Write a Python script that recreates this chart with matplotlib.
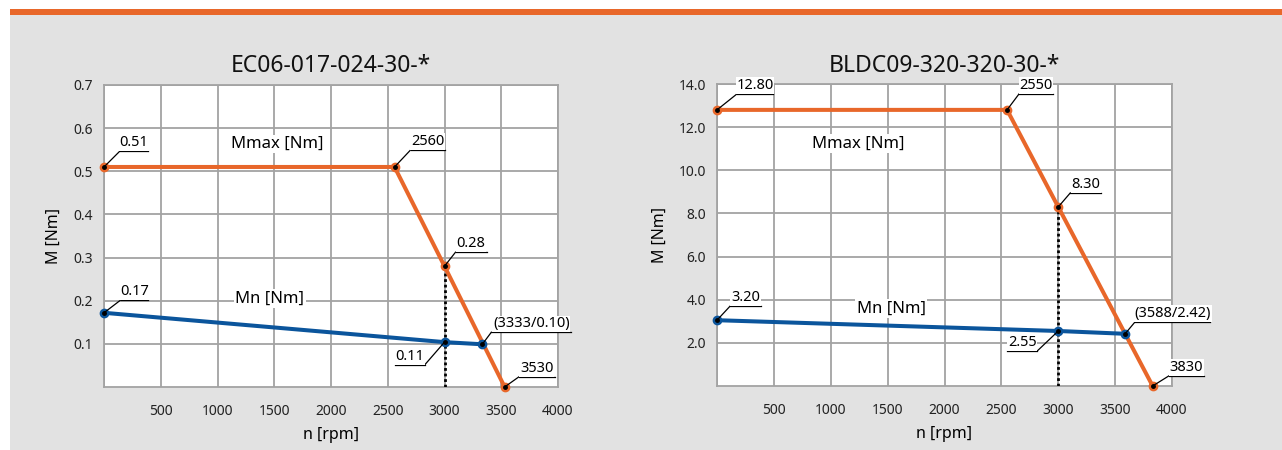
import matplotlib
matplotlib.use("Agg")
import matplotlib.pyplot as plt
from matplotlib.lines import Line2D
from matplotlib.patches import Rectangle
from matplotlib.transforms import IdentityTransform

plt.rcParams["font.family"] = ["Noto Sans", "DejaVu Sans"]

ORANGE = "#e8672a"
BLUE = "#0b559c"
GRID = "#a3a3a3"
PANEL = "#e2e2e2"

# ---- data ----
titles = ["EC06-017-024-30-*", "BLDC09-320-320-30-*"]

left_mmax_n = [0, 2560, 3000, 3530]
left_mmax_m = [0.51, 0.51, 0.28, 0.0]
left_mn_n = [0, 3000, 3333]
left_mn_m = [0.172, 0.104, 0.099]
left_yticks = [0.1, 0.2, 0.3, 0.4, 0.5, 0.6, 0.7]
left_ylabels = ["0.1", "0.2", "0.3", "0.4", "0.5", "0.6", "0.7"]

right_mmax_n = [0, 2550, 3000, 3830]
right_mmax_m = [12.8, 12.8, 8.3, 0.0]
right_mn_n = [0, 3000, 3588]
right_mn_m = [3.05, 2.55, 2.42]
right_yticks = [2, 4, 6, 8, 10, 12, 14]
right_ylabels = ["2.0", "4.0", "6.0", "8.0", "10.0", "12.0", "14.0"]

xticks = [0, 500, 1000, 1500, 2000, 2500, 3000, 3500, 4000]
xlabels = ["", "500", "1000", "1500", "2000", "2500", "3000", "3500", "4000"]

# callouts: (series, index, text, dx, dy, width)  offsets in pixels
left_callouts = [
    ("mmax", 0, "0.51", 16, 16, 28),
    ("mn", 0, "0.17", 17, 13, 27),
    ("mmax", 1, "2560", 16, 17, 34),
    ("mmax", 2, "0.28", 11, 14, 31),
    ("mn", 2, "(3333/0.10)", 9, 12, 80),
    ("mmax", 3, "3530", 14, 10, 36),
    ("mn", 1, "0.11", -20, -23, -30),
]
right_callouts = [
    ("mmax", 0, "12.80", 20, 16, 36),
    ("mn", 0, "3.20", 13, 14, 31),
    ("mmax", 1, "2550", 12, 16, 34),
    ("mmax", 2, "8.30", 12, 14, 31),
    ("mn", 2, "(3588/2.42)", 10, 12, 75),
    ("mmax", 3, "3830", 16, 10, 35),
    ("mn", 1, "2.55", -21, -20, -30),
]

W, H = 1282, 450
fig = plt.figure(figsize=(W / 100, H / 100), dpi=100)
fig.patch.set_facecolor("white")
fig.patches.append(Rectangle((10 / W, 0), 1, (H - 15) / H, transform=fig.transFigure,
                             facecolor=PANEL, edgecolor="none", zorder=-10))
fig.patches.append(Rectangle((10 / W, (H - 15) / H), 1, 6 / H, transform=fig.transFigure,
                             facecolor=ORANGE, edgecolor="none", zorder=-10))

charts = [
    dict(rect=[104 / W, 63 / H, 454 / W, 302 / H], title=titles[0],
         mmax=(left_mmax_n, left_mmax_m), mn=(left_mn_n, left_mn_m),
         ylim=0.7, yticks=left_yticks, ylabels=left_ylabels,
         callouts=left_callouts, mmax_lbl=(1530, 0.563), mn_lbl=(1460, 0.205)),
    dict(rect=[717 / W, 64 / H, 455 / W, 302 / H], title=titles[1],
         mmax=(right_mmax_n, right_mmax_m), mn=(right_mn_n, right_mn_m),
         ylim=14, yticks=right_yticks, ylabels=right_ylabels,
         callouts=right_callouts, mmax_lbl=(1240, 11.25), mn_lbl=(1530, 3.6)),
]

for c in charts:
    ax = fig.add_axes(c["rect"])
    ax.set_facecolor("white")
    ax.set_xlim(0, 4000)
    ax.set_ylim(0, c["ylim"])
    ax.set_xticks(xticks)
    ax.set_xticklabels(xlabels, fontsize=10, color="#222222")
    ax.set_yticks(c["yticks"])
    ax.set_yticklabels(c["ylabels"], fontsize=10, color="#222222")
    ax.tick_params(length=0, pad=8)
    ax.tick_params(axis="x", pad=12)
    ax.grid(color=GRID, linewidth=1.3)
    ax.set_axisbelow(True)
    for s in ax.spines.values():
        s.set_color(GRID)
        s.set_linewidth(1.3)
    ax.set_title(c["title"], fontsize=16.5, pad=9, color="#111111")
    ax.set_xlabel("n [rpm]", fontsize=11.5, labelpad=6)
    ax.set_ylabel("M [Nm]", fontsize=11.5, labelpad=8)

    mx, my = c["mmax"]
    nx, ny = c["mn"]
    # dotted drop line at 3000 rpm
    ax.plot([mx[2], mx[2]], [0, my[2]], color="black", linestyle=(0, (1, 1)),
            linewidth=2, zorder=3)
    ax.plot(mx, my, color=ORANGE, linewidth=2.9, marker="o", markersize=6,
            zorder=4, clip_on=False)
    ax.plot(nx, ny, color=BLUE, linewidth=2.9, marker="o", markersize=6,
            zorder=4, clip_on=False)

    bbox = dict(facecolor="white", edgecolor="none", pad=1)
    ax.text(*c["mmax_lbl"], "Mmax [Nm]", fontsize=12, ha="center", va="center",
            bbox=bbox, zorder=5)
    ax.text(*c["mn_lbl"], "Mn [Nm]", fontsize=12, ha="center", va="center",
            bbox=bbox, zorder=5)

    for series, i, txt, dx, dy, w in c["callouts"]:
        xs, ys = c[series]
        px, py = ax.transData.transform((xs[i], ys[i]))
        ux, uy = px + dx, py + dy
        fig.add_artist(Line2D([px, ux], [py, uy], color="black", linewidth=0.9,
                              transform=IdentityTransform(), zorder=6))
        fig.add_artist(Line2D([ux, ux + w], [uy, uy], color="black", linewidth=0.9,
                              transform=IdentityTransform(), zorder=6))
        fig.add_artist(Line2D([px], [py], color="black", marker="o", markersize=2.5,
                              linestyle="none", transform=IdentityTransform(), zorder=7))
        fig.text(ux + w / 2, uy + 1, txt, fontsize=10.5, ha="center", va="bottom",
                 transform=IdentityTransform(), zorder=6,
                 bbox=dict(facecolor="white", edgecolor="none", pad=0.5))

fig.savefig("out.png", dpi=100, facecolor=fig.get_facecolor())
